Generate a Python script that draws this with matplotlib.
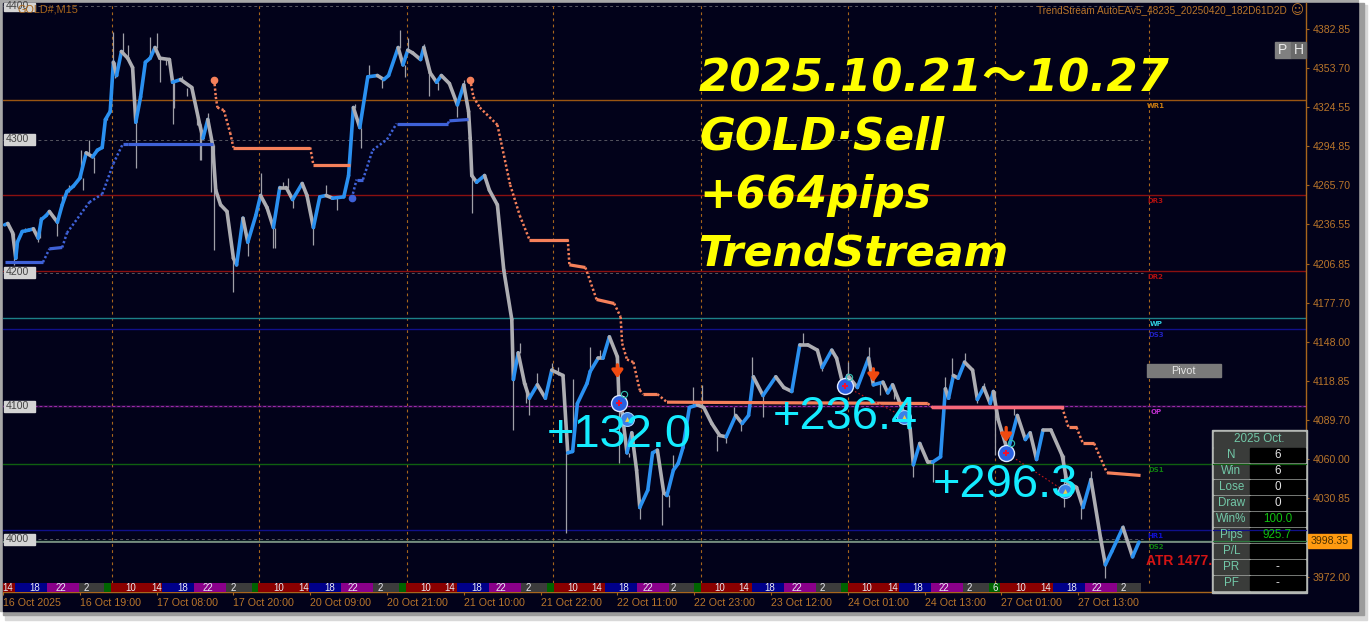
from matplotlib import pyplot as plt
from matplotlib.collections import LineCollection
from matplotlib.patches import Rectangle
import numpy as np

# M15 bars, price
close_bars = [1, 3, 6, 8, 9, 12, 16, 19, 22, 24, 27, 29, 34, 37, 40, 44, 48, 52, 56, 59, 62, 64, 67, 69, 71, 74, 78, 81, 83, 86, 89, 92, 95, 98, 104, 106, 111, 118, 123, 125, 128, 131, 133, 136, 140, 144, 146,
              150, 153, 158, 161, 165, 169, 173, 177, 181, 187, 190, 194, 198, 202, 206, 213, 216, 219, 223, 228, 234, 238, 241, 247, 250, 253, 256, 261, 263, 267, 271, 274, 279, 284, 288, 291, 292, 293, 296, 301, 304, 309, 313,
              318, 319, 322, 326, 329, 334, 339, 343, 350, 353, 356, 359, 365, 367, 372, 375, 379, 384, 385, 387, 390, 393, 396, 398, 403, 406, 409, 413, 415, 419, 422, 425, 429, 434, 438, 443, 448,
              452, 458, 462, 466, 469, 475, 483, 488, 493, 498, 503, 509, 512, 518, 521, 525, 528, 534, 541, 544, 550, 553, 556, 561, 567, 569, 573, 578,
              581, 586, 589, 591, 594, 597, 601, 606, 609, 613, 617, 619, 622, 628, 634, 639, 642, 646, 650, 655, 662, 665, 671, 675, 680, 686, 689, 693, 700, 706, 710]
close_prices = [4236, 4237, 4230, 4211, 4223, 4231, 4232, 4233, 4226, 4240, 4243, 4246, 4238, 4251, 4261, 4265, 4271, 4290, 4287, 4292, 4294, 4315, 4321, 4358, 4348, 4366, 4361, 4354, 4313, 4332, 4358, 4361, 4369, 4361, 4360, 4343, 4345, 4339, 4311, 4301, 4315, 4296, 4262, 4251, 4246, 4211, 4206,
                4241, 4223, 4243, 4258, 4249, 4234, 4264, 4264, 4255, 4267, 4258, 4234, 4257, 4258, 4256, 4257, 4273, 4324, 4309, 4347, 4348, 4345, 4348, 4369, 4356, 4367, 4365, 4360, 4369, 4350, 4343, 4348, 4342, 4326, 4341, 4321, 4301, 4273, 4268, 4273, 4262, 4251, 4202,
                4165, 4120, 4140, 4117, 4106, 4116, 4106, 4127, 4123, 4065, 4066, 4102, 4117, 4126, 4136, 4136, 4152, 4137, 4105, 4095, 4065, 4080, 4052, 4024, 4037, 4065, 4067, 4035, 4033, 4052, 4057, 4069, 4099, 4101, 4099, 4087, 4078,
                4077, 4093, 4087, 4093, 4122, 4108, 4122, 4114, 4111, 4146, 4146, 4142, 4129, 4142, 4136, 4116, 4123, 4114, 4136, 4116, 4118, 4110, 4116, 4101, 4083, 4056, 4072, 4058,
                4058, 4062, 4113, 4106, 4123, 4121, 4133, 4127, 4105, 4114, 4102, 4111, 4090, 4066, 4093, 4075, 4080, 4060, 4082, 4082, 4063, 4043, 4039, 4024, 4045, 4001, 3981, 3991, 4009, 3987, 3998]

wick_bars = [7, 9, 14, 22, 23, 34, 37, 41, 49, 50, 54, 57, 65, 69, 70, 75, 78, 83, 92, 96, 98, 102, 106, 107, 112, 115, 121, 123, 124, 128, 130, 132, 144,
             153, 161, 169, 170, 175, 178, 181, 194, 202, 209, 220, 224, 229, 237, 248, 251, 253, 263, 266, 272, 284, 288, 293,
             319, 323, 327, 329, 334, 343, 347, 352, 356, 367, 373, 385, 391, 398, 412, 416, 419, 431, 437, 446,
             452, 457, 461, 468, 475, 500, 512, 528, 541, 548, 557, 569, 581, 589, 593, 601, 609, 613, 620, 632, 663, 674, 680, 689, 700]
wick_tips = [4206, 4219, 4234, 4223, 4242, 4228, 4258, 4266, 4292, 4262, 4300, 4275, 4320, 4381, 4346, 4380, 4371, 4279, 4377, 4380, 4343, 4356, 4312, 4324, 4348, 4333, 4318, 4285, 4285, 4320, 4261, 4217, 4186,
             4213, 4275, 4219, 4219, 4268, 4271, 4249, 4221, 4266, 4247, 4327, 4294, 4356, 4339, 4382, 4347, 4376, 4372, 4333, 4337, 4317, 4345, 4245,
             4082, 4147, 4102, 4093, 4125, 4132, 4129, 4005, 4120, 4144, 4142, 4057, 4062, 4015, 4011, 4024, 4063, 4114, 4116, 4066,
             4072, 4099, 4081, 4137, 4092, 4155, 4126, 4133, 4144, 4108, 4105, 4047, 4043, 4122, 4136, 4140, 4102, 4117, 4063, 4099, 4024, 4015, 4051, 3971, 4011]

# trailing stop lines
sell_bars_1 = [132, 133, 134, 138, 142, 144, 192, 194, 217]
sell_prices_1 = [4345, 4332, 4324, 4322, 4305, 4294, 4294, 4281, 4281]
buy_bars_1 = [1, 25, 29, 37, 40, 54, 62, 69, 75, 78, 131]
buy_prices_1 = [4208, 4208, 4218, 4219, 4230, 4253, 4259, 4282, 4297, 4297, 4297]
buy_bars_2 = [218, 221, 225, 231, 240, 246, 278, 279, 291]
buy_prices_2 = [4256, 4270, 4270, 4292, 4300, 4312, 4312, 4314, 4315]
sell_bars_2 = [292, 294, 298, 309, 317, 323, 329, 353, 354, 364, 371, 382, 386, 387, 390, 394, 398, 400, 409, 415, 578, 581, 662, 666, 671, 675, 682, 690, 711]
sell_prices_2 = [4345, 4332, 4324, 4311, 4266, 4243, 4225, 4225, 4206, 4204, 4180, 4177, 4167, 4147, 4135, 4133, 4112, 4109, 4109, 4103, 4102, 4099, 4099, 4084, 4084, 4072, 4072, 4050, 4048]

# pivot levels
level_names = ["WR1", "DR3", "DR2", "WP", "DS3", "OP", "DS1", "HR1", "DS2"]
level_prices = [4329.6, 4258.4, 4201.4, 4166, 4157.5, 4100, 4056.6, 4007, 3998.8]
level_colors = ["#9a5512", "#8a1010", "#8a1010", "#1c8088", "#10108a", "#9a2aa8", "#0f5f10", "#10108a", "#2f7a40"]
label_colors = ["#c87a10", "#b01010", "#b01010", "#30d0e0", "#2020c0", "#c030d0", "#108010", "#1010d0", "#108010"]

# trades
entry_bars = [385, 526, 627]
entry_prices = [4102, 4115, 4065]
exit_bars = [390, 563, 664]
exit_prices = [4090, 4092, 4036]
arrow_bars = [384, 544, 627]
arrow_tails = [4131, 4128, 4084]
arrow_tips = [4121, 4118, 4073]

price_ticks = [4382.85, 4353.70, 4324.55, 4294.85, 4265.70, 4236.55, 4206.85, 4177.70, 4148.00, 4118.85, 4089.70, 4060.00, 4030.85, 3972.00]
round_prices = [4400, 4300, 4200, 4100, 4000]
time_bars = [0, 48, 96, 144, 192, 240, 288, 336, 384, 432, 480, 528, 576, 624, 672]
time_labels = ["16 Oct 2025", "16 Oct 19:00", "17 Oct 08:00", "17 Oct 20:00", "20 Oct 09:00", "20 Oct 21:00", "21 Oct 10:00", "21 Oct 22:00", "22 Oct 11:00", "22 Oct 23:00", "23 Oct 12:00", "24 Oct 01:00", "24 Oct 13:00", "27 Oct 01:00", "27 Oct 13:00"]
day_bars = [68, 160, 252.5, 344, 436, 528, 620, 716]

session_ends = [0, 7.5, 27.5, 47.5, 63, 67.5, 99.5, 119.5, 139.5, 155.6, 159.5, 191, 211, 231, 247.5, 252, 284, 304, 324, 340, 344.4, 376, 396, 416, 432, 436, 468, 488, 508, 524, 528, 560, 580, 600, 616, 623, 656, 676, 696, 711]
session_cycle = ["#8a0000", "#00008a", "#8a008a", "#3c3c3c", "#006400"]
hour_bars = [3, 20, 36, 52, 80, 96, 112, 128, 144, 172, 188, 204, 219, 236, 264, 279, 296, 311, 328, 356, 371, 388, 403, 419, 448, 463, 479, 496, 512, 540, 556, 572, 588, 604, 620, 636, 652, 668, 684, 700]
hour_labels = ["14", "18", "22", "2", "10", "14", "18", "22", "2", "10", "14", "18", "22", "2", "10", "14", "18", "22", "2", "10", "14", "18", "22", "2", "10", "14", "18", "22", "2", "10", "14", "18", "22", "2", "6", "10", "14", "18", "22", "2"]

table_names = ["N", "Win", "Lose", "Draw", "Win%", "Pips", "P/L", "PR", "PF"]
table_values = ["6", "6", "0", "0", "100.0", "925.7", "", "-", "-"]

BG = "#02021a"
AXC = "#a8661c"
TXT = "#b9752a"
SANS = ["Liberation Sans", "Noto Sans CJK JP", "DejaVu Sans"]
STOP_ORANGE = "#f5805a"
STOP_BLUE = "#3f62d8"


def draw_stop(ax, bars, prices, color):
    # flat stretches are a solid band, moving stretches a row of dots
    for i in range(len(bars) - 1):
        dx = bars[i + 1] - bars[i]
        dy = prices[i + 1] - prices[i]
        if abs(dy) / dx < 0.3:
            ax.plot(bars[i:i + 2], prices[i:i + 2], color=color, lw=2.3, zorder=6, solid_capstyle="butt")
        else:
            ax.plot(bars[i:i + 2], prices[i:i + 2], color=color, lw=1.8, ls=(0, (0.9, 0.9)), zorder=6)


def main():
    plt.rcParams["font.family"] = SANS
    fig = plt.figure(figsize=(13.7, 6.24), dpi=100, facecolor="white")

    # window frame lives on a full figure axes in pixels
    back = fig.add_axes([0, 0, 1, 1], zorder=0)
    back.set_xlim(0, 1370)
    back.set_ylim(624, 0)
    back.axis("off")
    back.add_patch(Rectangle((5, 5), 1362, 615, color="#d8d8d8"))
    back.add_patch(Rectangle((3, 3), 1361, 612, color="#9c9c9c"))
    back.add_patch(Rectangle((0, 0), 1358, 4, color="#a8a8a8"))
    back.add_patch(Rectangle((0, 0), 3, 611, color="#a8a8a8"))
    back.add_patch(Rectangle((3, 3), 1355, 608, color=BG))

    ax = fig.add_axes([3 / 1370, 1 - 592 / 624, 1303 / 1370, 589 / 624], zorder=1)
    ax.set_facecolor(BG)
    ax.patch.set_alpha(0)
    ax.set_xlim(0, 814.4)
    ax.set_ylim(3960.6, 4402.4)
    for side in ["top", "left"]:
        ax.spines[side].set_visible(False)
    for side in ["right", "bottom"]:
        ax.spines[side].set_color(AXC)
        ax.spines[side].set_linewidth(1)

    ax.yaxis.tick_right()
    ax.set_yticks(price_ticks, [f"{p:.2f}" for p in price_ticks])
    ax.tick_params(axis="y", length=2.5, width=0.8, color=AXC, labelcolor=TXT, labelsize=7.6, pad=2.5)
    ax.set_xticks(time_bars, time_labels, ha="left")
    ax.tick_params(axis="x", length=2, width=0.8, color=AXC, labelcolor=TXT, labelsize=7.7, pad=2)

    for price in round_prices:
        ax.axhline(price, xmax=1140 / 1303, color="#555560", lw=0.7, ls=(0, (3, 3)), zorder=1)
    for bar in day_bars:
        ax.axvline(bar, ymin=0.015, color="#a8661c", lw=0.8, ls=(0, (2.5, 3)), zorder=1)
    for price, color in zip(level_prices, level_colors):
        ax.axhline(price, color=color, lw=1, zorder=2)
    ax.axhline(level_prices[5], color=BG, lw=0.5, ls=(0, (3, 4)), zorder=2)
    ax.axhline(3998.35, color="#7f9288", lw=1.2, zorder=2)
    for name, price, color in zip(level_names, level_prices, label_colors):
        ax.text(720.5, price - 2.2, name, color=color, fontsize=5, fontweight="bold",
                ha="center", va="top", family="DejaVu Sans", zorder=3)

    # session strip
    for i in range(len(session_ends) - 1):
        ax.axvspan(session_ends[i], session_ends[i + 1], ymin=0, ymax=9 / 589,
                   color=session_cycle[i % 5], lw=0, zorder=3)
    for bar, hour in zip(hour_bars, hour_labels):
        ax.text(bar, 4 / 589, hour, color="#e8e8f0", fontsize=7, ha="center", va="center",
                transform=ax.get_xaxis_transform(), zorder=4)

    # wicks, then the price line coloured by direction
    near = [close_prices[np.argmin(np.abs(np.array(close_bars) - b))] for b in wick_bars]
    ax.vlines(wick_bars, near, wick_tips, color="#a0a0a8", lw=0.9, zorder=4)
    pts = np.column_stack([close_bars, close_prices])
    segs = np.stack([pts[:-1], pts[1:]], axis=1)
    colors = ["#2a90f0" if b[1] > a[1] else "#adadb2" for a, b in zip(pts[:-1], pts[1:])]
    ax.add_collection(LineCollection(segs, colors=colors, linewidths=2.6, zorder=5, capstyle="round"))

    # trailing stops
    draw_stop(ax, buy_bars_1, buy_prices_1, STOP_BLUE)
    draw_stop(ax, buy_bars_2, buy_prices_2, STOP_BLUE)
    draw_stop(ax, sell_bars_1, sell_prices_1, STOP_ORANGE)
    draw_stop(ax, sell_bars_2, sell_prices_2, STOP_ORANGE)
    ax.plot(sell_bars_2[21:23], sell_prices_2[21:23], color="#f8687a", lw=2.5, zorder=6)
    ax.plot(sell_bars_1[0], sell_prices_1[0], "o", color=STOP_ORANGE, ms=4.5, zorder=6)
    ax.plot(sell_bars_2[0], sell_prices_2[0], "o", color=STOP_ORANGE, ms=4.5, zorder=6)
    ax.plot(buy_bars_2[0], buy_prices_2[0], "o", color=STOP_BLUE, ms=4.5, zorder=6)

    # trades
    for i in range(3):
        ax.plot([entry_bars[i], exit_bars[i]], [entry_prices[i], exit_prices[i]],
                color="#c01818", lw=0.8, ls=(0, (1.5, 2)), zorder=7)
        ax.plot(entry_bars[i], entry_prices[i], "o", ms=11.5, mfc="#2a5fe0", mec="#dce8ff", mew=1, zorder=7)
        ax.plot(entry_bars[i], entry_prices[i], "P", ms=4, color="#f01030", mew=0, zorder=8)
        ax.plot(entry_bars[i] + 3, entry_prices[i] + 7, "o", ms=4.5, mfc="none", mec="#30c0b0", mew=0.8, zorder=8)
        ax.plot(exit_bars[i], exit_prices[i], "o", ms=10, mfc="#3a80e8", mec="#a0d0f8", mew=0.8, zorder=7)
        ax.plot(exit_bars[i], exit_prices[i], "^", ms=3.5, color="#e8d050", mew=0, zorder=8)
        ax.annotate("", xy=(arrow_bars[i], arrow_tips[i]), xytext=(arrow_bars[i], arrow_tails[i]),
                    arrowprops=dict(arrowstyle="-|>,head_width=0.32,head_length=0.45", color="#f04a10", lw=2.4, shrinkA=0, shrinkB=0),
                    zorder=8)

    # everything in pixel coordinates on top
    top = fig.add_axes([0, 0, 1, 1], zorder=2)
    top.set_xlim(0, 1370)
    top.set_ylim(624, 0)
    top.axis("off")

    for price, y in zip(round_prices, [6, 139, 272, 406, 539.5]):
        h = 11
        top.add_patch(Rectangle((4, y - h / 2 if y > 10 else 3), 31, h if y > 10 else 8, color="#d4d4d4"))
        top.text(6, y, str(price), color="#444444", fontsize=7.6, va="center", ha="left")
    top.text(18, 10, "GOLD#,M15", color="#a8661c", fontsize=7.8, va="center")
    top.text(1287, 10.5, "TrendStream AutoEAv5_48235_20250420_182D61D2D", color=TXT, fontsize=7.2, va="center", ha="right")
    top.text(1297, 10.5, "\u263a", color=TXT, fontsize=9, va="center", ha="center", family="DejaVu Sans")

    top.add_patch(Rectangle((1275, 42), 16, 16, color="#808080"))
    top.add_patch(Rectangle((1291, 42), 15, 16, color="#6a6a6a"))
    top.text(1283, 50, "P", color="#e8e8e8", fontsize=10, ha="center", va="center")
    top.text(1298.5, 50, "H", color="#e8e8e8", fontsize=10, ha="center", va="center")
    top.add_patch(Rectangle((1147, 364), 74, 13, color="#7a7a7a"))
    top.text(1183, 370.5, "Pivot", color="#e6e6e6", fontsize=7.8, ha="center", va="center")
    top.text(1146, 561, "ATR 1477.", color="#d41414", fontsize=10, fontweight="bold", va="center")

    # headline
    lines = ["2025.10.21\uff5e10.27", "GOLD\u00b7Sell", "+664pips", "TrendStream"]
    for text, y, size in zip(lines, [92, 150, 208, 265], [32.3, 31.5, 31.5, 30.8]):
        top.text(699, y, text, color="#ffff00", fontsize=size, fontweight="bold", fontstyle="italic",
                 va="baseline", ha="left", family=["DejaVu Sans", "Noto Sans CJK JP"])

    for text, x, y in zip(["+132.0", "+236.4", "+296.3"], [547, 773, 933], [435, 417, 485]):
        top.text(x, y, text, color="#14ecff", fontsize=33.8, va="center", ha="left")

    # stats table
    top.add_patch(Rectangle((1212, 430), 95, 163, color="#b4b8b4", zorder=5))
    top.add_patch(Rectangle((1214, 432), 91, 14.5, color="#3a3c3a", zorder=6))
    top.text(1259.5, 439, "2025 Oct.", color="#72c8a8", fontsize=8.4, ha="center", va="center", zorder=8)
    for i, (name, value) in enumerate(zip(table_names, table_values)):
        y = 447.8 + i * 16
        top.add_patch(Rectangle((1214, y), 35, 14.3, color="#3a3c3a", zorder=6))
        top.add_patch(Rectangle((1250.5, y), 54.5, 14.3, color="#000000", zorder=6))
        top.text(1231.5, y + 7, name, color="#72c8a8", fontsize=8.4, ha="center", va="center", zorder=8)
        color = "#10c010" if name in ("Win%", "Pips") else "#e4e4e4"
        top.text(1277.5, y + 7, value, color=color, fontsize=8.4, ha="center", va="center", zorder=8)
    top.plot([1213, 1306], [464.4, 464.4], color="#0f5f10", lw=0.9, zorder=7)
    top.plot([1213, 1306], [530, 530], color="#10108a", lw=0.9, zorder=7)
    top.plot([1213, 1306], [541, 541], color="#2f7a40", lw=0.9, zorder=7)

    top.add_patch(Rectangle((1308, 534), 43, 13.5, color="#ff9a10", zorder=8))
    top.text(1329.5, 541, "3998.35", color="#4a3000", fontsize=7.6, ha="center", va="center", zorder=9)

    fig.savefig("out.png", dpi=100, facecolor="white")


if __name__ == "__main__":
    main()
